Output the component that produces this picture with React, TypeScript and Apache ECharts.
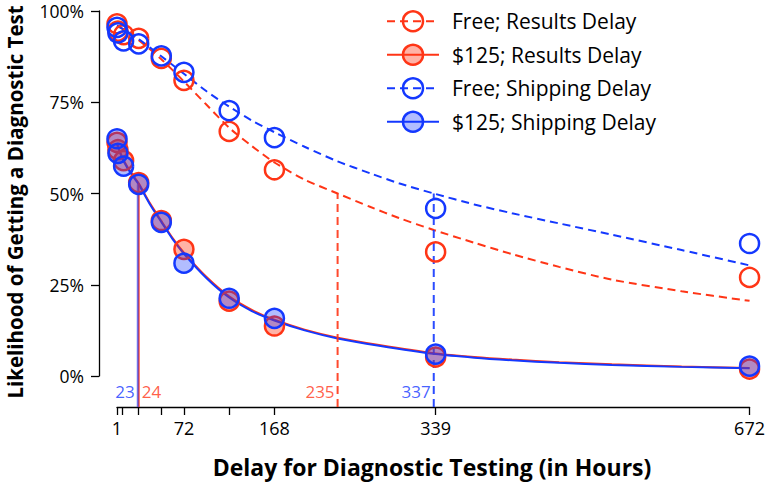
import React, { useEffect, useRef } from 'react';
import * as echarts from 'echarts';

// observed points
const hours = [1, 2, 8, 24, 48, 72, 120, 168, 339, 672];
const freeResults = [96.5, 94.5, 93.5, 92.5, 87, 81, 67, 56.5, 34, 27];
const paidResults = [64, 62, 59, 53, 42.6, 34.7, 20.5, 13.7, 5.2, 1.9];
const freeShipping = [95.5, 94, 91.8, 91, 87.7, 83.2, 72.7, 65.3, 45.9, 36.3];
const paidShipping = [65, 61, 57.5, 52.5, 42.1, 30.9, 21.3, 15.8, 6, 2.7];

// fitted curves
const fitHoursFree = [1, 12, 24, 36, 48, 60, 72, 96, 120, 144, 168, 200, 235, 270, 300, 337, 380, 420, 470, 526, 600, 672];
const fitFreeResults = [96, 94.3, 92, 89.5, 86.8, 83.8, 80.7, 74.3, 68, 63, 58.5, 53.8, 50, 46.3, 43.3, 40, 36.5, 33.4, 29.9, 26.4, 23.2, 20.6];
const fitFreeShipping = [96, 94.3, 92.3, 90, 87.6, 85.2, 82.8, 78, 73.8, 70, 66.8, 62.8, 58.8, 55.5, 52.8, 50, 47, 44.6, 41.8, 38.7, 34.5, 30.3];
const fitHoursPaid = [1, 6, 12, 18, 24, 36, 48, 60, 72, 96, 120, 144, 168, 200, 235, 279, 339, 380, 420, 470, 526, 600, 672];
const fitPaidResults = [63.8, 60.3, 57.3, 55, 52.8, 47.3, 42.5, 37.8, 33.8, 27.1, 21.8, 18.1, 15.4, 12.7, 10.5, 8.5, 6.2, 5.2, 4.5, 3.8, 3.2, 2.6, 2.2];
const fitPaidShipping = [63.5, 60, 57, 54.7, 52.5, 47, 42.2, 37.5, 33.5, 26.8, 21.5, 17.8, 15.2, 12.5, 10.3, 8.3, 6, 5, 4.3, 3.6, 3, 2.5, 2.1];

// half-life markers
const halfHours = [24, 23, 235, 337];
const halfTops = [52.8, 52.5, 50, 50];
const halfLabels = ['24', '23', '235', '337'];

const tickHours = [1, 7, 24, 48, 72, 120, 168, 339, 672];
const labelHours = [1, 72, 168, 339, 672];
const yTicks = [0, 25, 50, 75, 100];

const names = ['Free; Results Delay', '$125; Results Delay', 'Free; Shipping Delay', '$125; Shipping Delay'];

const RED = '#ff3516';
const BLUE = '#1438ff';
const RED_FILL = 'rgba(255,53,22,0.38)';
const BLUE_FILL = 'rgba(20,56,255,0.33)';
const FONT = 'Open Sans';

const zip = (xs: number[], ys: number[]) => xs.map((x, i) => [x, ys[i]]);

export default function App() {
  const ref = useRef<HTMLDivElement>(null);
  useEffect(() => {
    if (!ref.current) return;
    const chart = echarts.init(ref.current, undefined, { renderer: 'svg' });
    const gridTop = 11;
    const gridBottom = 108;
    const plotH = 484 - gridTop - gridBottom;
    const xOffset = 31;
    const axisBottomValue = (-xOffset / plotH) * 100;
    const labelValue = axisBottomValue / 2;

    const colors = [RED, RED, BLUE, BLUE];
    const fills = ['rgba(0,0,0,0)', RED_FILL, 'rgba(0,0,0,0)', BLUE_FILL];
    const dashed = [true, false, true, false];
    const fitX = [fitHoursFree, fitHoursPaid, fitHoursFree, fitHoursPaid];
    const fitY = [fitFreeResults, fitPaidResults, fitFreeShipping, fitPaidShipping];
    const ptsY = [freeResults, paidResults, freeShipping, paidShipping];

    const series: any[] = [];
    for (let i = 0; i < 4; i++) {
      series.push({
        name: names[i],
        type: 'line',
        data: zip(fitX[i], fitY[i]),
        smooth: 0.25,
        symbol: 'circle',
        showSymbol: false,
        lineStyle: { color: colors[i], width: 2, type: dashed[i] ? [8, 5] : 'solid' },
        itemStyle: { color: fills[i], borderColor: colors[i], borderWidth: 2.5 },
        z: 2,
      });
    }
    const halfColors = [RED, BLUE, RED, BLUE];
    const halfDashed = [false, false, true, true];
    for (let i = 0; i < 4; i++) {
      series.push({
        name: 'half' + i,
        type: 'line',
        data: [[halfHours[i], axisBottomValue], [halfHours[i], halfTops[i]]],
        showSymbol: false,
        symbol: 'none',
        clip: false,
        lineStyle: {
          color: halfColors[i],
          width: 2,
          opacity: i === 1 ? 0.6 : 0.9,
          type: halfDashed[i] ? [8, 5] : 'solid',
        },
        z: 2,
      });
    }
    const labelPos = ['right', 'left', 'left', 'left'];
    series.push({
      name: 'halfLabels',
      type: 'scatter',
      symbolSize: 0,
      clip: false,
      silent: true,
      data: halfHours.map((h, i) => ({
        value: [h, labelValue],
        name: halfLabels[i],
        label: {
          show: true,
          formatter: halfLabels[i],
          position: labelPos[i],
          distance: 3,
          color: halfColors[i],
          fontSize: 17,
          fontFamily: FONT,
        },
      })),
      z: 3,
    });
    for (let i = 0; i < 4; i++) {
      series.push({
        name: 'pts' + i,
        type: 'scatter',
        data: zip(hours, ptsY[i]),
        symbol: 'circle',
        symbolSize: 19,
        itemStyle: { color: fills[i], borderColor: colors[i], borderWidth: 2.5, opacity: 1 },
        z: 4,
      });
    }

    chart.setOption({
      animation: false,
      textStyle: { fontFamily: FONT },
      grid: { left: 117, right: 17, top: gridTop, bottom: gridBottom, containLabel: false },
      xAxis: {
        type: 'value',
        min: 1,
        max: 672,
        offset: xOffset,
        splitLine: { show: false },
        axisLine: { show: true, onZero: false, lineStyle: { color: '#000', width: 1.3 } },
        axisTick: { show: true, customValues: tickHours, length: 8, lineStyle: { color: '#000', width: 1.3 } },
        axisLabel: { customValues: labelHours, fontSize: 18, color: '#000', margin: 12, fontFamily: FONT },
      },
      yAxis: {
        type: 'value',
        min: 0,
        max: 100,
        interval: 25,
        offset: 18,
        splitLine: { show: false },
        axisLine: { show: true, onZero: false, lineStyle: { color: '#000', width: 1.3 } },
        axisTick: { show: true, customValues: yTicks, length: 8, lineStyle: { color: '#000', width: 1.3 } },
        axisLabel: {
          customValues: yTicks,
          formatter: '{value}%',
          fontSize: 17.5,
          lineHeight: 14,
          color: '#000',
          margin: 15,
          fontFamily: FONT,
        },
      },
      legend: {
        data: names,
        orient: 'vertical',
        left: 381,
        top: 5,
        itemWidth: 52,
        itemHeight: 25,
        itemGap: 11,
        itemStyle: { borderWidth: 2.5 },
        textStyle: { fontSize: 21, color: '#000', fontFamily: FONT, padding: [0, 0, 0, 8] },
      },
      graphic: [
        {
          type: 'text',
          x: 432,
          y: 467,
          style: {
            text: 'Delay for Diagnostic Testing (in Hours)',
            fontSize: 23,
            fontWeight: 'bold',
            fontFamily: FONT,
            fill: '#000',
            align: 'center',
            verticalAlign: 'middle',
          },
        },
        {
          type: 'text',
          x: 15,
          y: 202,
          rotation: Math.PI / 2,
          style: {
            text: 'Likelihood of Getting a Diagnostic Test',
            fontSize: 20.5,
            fontWeight: 'bold',
            fontFamily: FONT,
            fill: '#000',
            align: 'center',
            verticalAlign: 'middle',
          },
        },
      ],
      series,
    });
    return () => chart.dispose();
  }, []);
  return <div ref={ref} style={{ position: 'absolute', left: 0, top: 0, width: 768, height: 484 }} />;
}
